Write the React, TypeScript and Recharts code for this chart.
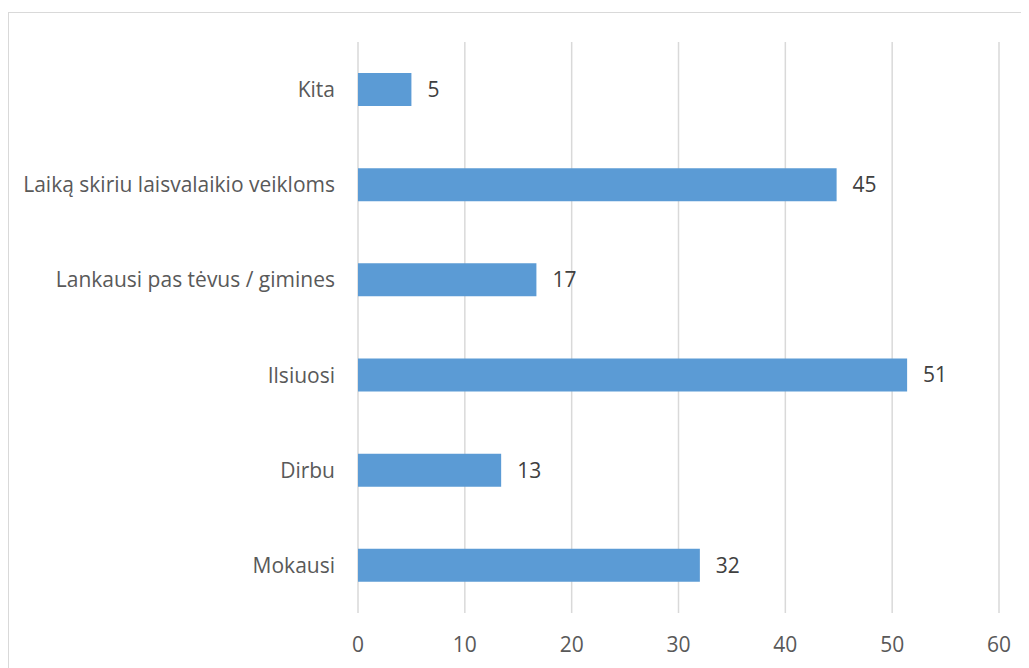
import React from "react";
import { BarChart, Bar, XAxis, YAxis, CartesianGrid, LabelList } from "recharts";

const categories = [
  "Kita",
  "Laiką skiriu laisvalaikio veikloms",
  "Lankausi pas tėvus / gimines",
  "Ilsiuosi",
  "Dirbu",
  "Mokausi",
];
const values = [5.0, 44.8, 16.7, 51.4, 13.4, 32.0];
const xTicks = [0, 10, 20, 30, 40, 50, 60];

const data = categories.map((name, i) => ({ name, value: values[i] }));

const FONT = "'Open Sans', 'Segoe UI', sans-serif";

export default function App() {
  return (
    <div
      style={{
        marginTop: 4,
        width: 1021,
        height: 656,
        borderLeft: "1px solid #d9d9d9",
        borderTop: "1px solid #d9d9d9",
        boxSizing: "border-box",
        position: "relative",
        overflow: "hidden",
        background: "#fff",
      }}
    >
      <BarChart
        width={1020}
        height={655}
        data={data}
        layout="vertical"
        margin={{ top: 29, right: 30, bottom: 15, left: 0 }}
        barCategoryGap={0}
        style={{ fontFamily: FONT }}
      >
        <CartesianGrid horizontal={false} vertical={true} stroke="#d9d9d9" strokeWidth={1.5} />
        <XAxis
          type="number"
          domain={[0, 60]}
          ticks={xTicks}
          axisLine={false}
          tickLine={false}
          tickMargin={18}
          height={40}
          tick={{ fill: "#595959", fontSize: 21, fontFamily: FONT }}
        />
        <YAxis
          type="category"
          dataKey="name"
          width={349}
          axisLine={false}
          tickLine={false}
          tickMargin={17}
          interval={0}
          tick={{ fill: "#595959", fontSize: 21, fontFamily: FONT }}
        />
        <Bar dataKey="value" fill="#5b9bd5" barSize={33} isAnimationActive={false}>
          <LabelList
            dataKey="value"
            position="right"
            offset={16}
            formatter={(v: number) => Math.round(v)}
            style={{ fill: "#404040", fontSize: 21, fontFamily: FONT }}
          />
        </Bar>
      </BarChart>
    </div>
  );
}
